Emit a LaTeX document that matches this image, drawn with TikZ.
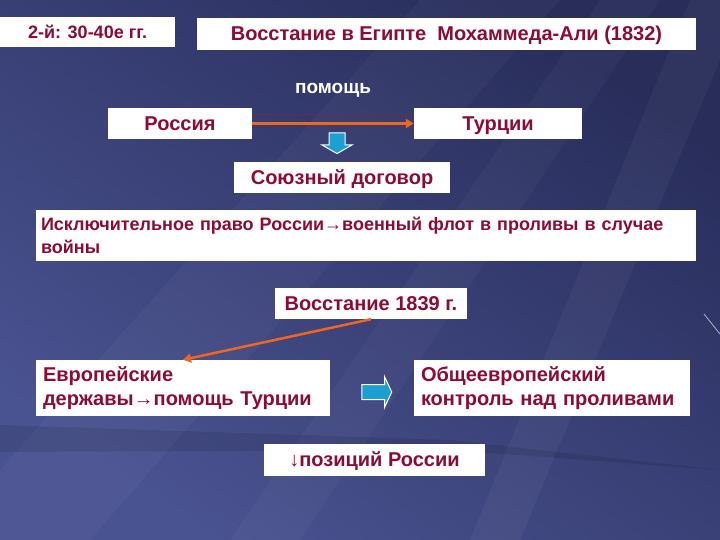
\documentclass[tikz,border=0pt]{standalone}
\usepackage{fontspec}
\setmainfont{Liberation Sans}
\usepackage{xcolor}
\usepackage{tikz}
\usetikzlibrary{shapes.arrows,arrows.meta}

\definecolor{bordo}{HTML}{8A0C32}
\definecolor{fonverh}{HTML}{282D5A}
\definecolor{fonniz}{HTML}{4A5391}
\definecolor{oranzh}{HTML}{F0661E}
\definecolor{goluboy}{HTML}{1E9FD2}
\definecolor{liniya}{HTML}{6A2C48}

\tikzset{
  blok/.style={fill=white, text=bordo, inner sep=0pt,
    font=\bfseries\fontsize{20}{24}\selectfont},
  stroka/.style={blok, text height=16pt, text depth=2.5pt},
  potok/.style={oranzh, line width=2.5pt, -{Triangle[length=8pt,width=9pt]}},
  strblok/.style={single arrow, draw=white, line width=1pt, fill=goluboy}
}

\begin{document}
\begin{tikzpicture}[x=1pt,y=-1pt]
  % Фон
  \useasboundingbox (0,0) rectangle (720,540);
  \shade[top color=fonverh, bottom color=fonniz, shading angle=-35] (0,0) rectangle (720,540);
  \fill[white, opacity=0.03] (420,0) -- (560,0) -- (90,540) -- (0,540) -- (0,470) -- cycle;
  \fill[white, opacity=0.03] (600,0) -- (660,0) -- (300,540) -- (230,540) -- cycle;
  \fill[white, opacity=0.04] (690,0) -- (720,0) -- (720,60) -- (520,540) -- (470,540) -- cycle;
  \fill[black, opacity=0.10] (0,425) -- (450,440) -- (720,470) -- (450,450) -- (0,452) -- cycle;
  \draw[white, opacity=0.6, line width=0.8pt] (704,314) -- (720,334);

  % Блоки
  \node[stroka, minimum width=175, minimum height=30, font=\bfseries\fontsize{18}{20}\selectfont]
    (period) at (87.5,32) {2-й: 30-40е гг.};
  \node[stroka, minimum width=499, minimum height=32] (egipet) at (446.5,34)
    {Восстание в Египте\ \ Мохаммеда-Али (1832)};
  \node[text=white, font=\bfseries\fontsize{19}{22}\selectfont, inner sep=0pt]
    (pomosch) at (333,90) {помощь};
  \node[stroka, minimum width=144, minimum height=31] (rossia) at (180,123.5) {Россия};
  \node[stroka, minimum width=168, minimum height=31] (turcii) at (498,123.5) {Турции};
  \node[strblok, inner sep=7.5pt, minimum height=18, minimum width=29, single arrow head extend=7,
    single arrow tip angle=120, shape border rotate=270] (vniz) at (337,141) {};
  \node[stroka, minimum width=216, minimum height=31] (dogovor) at (342,177.5) {Союзный договор};
  \node[blok, minimum height=51, text width=650, align=left, inner xsep=5pt,
    font=\bfseries\fontsize{18}{23}\selectfont] (pravo) at (366,235.5)
    {Исключительное право России→военный флот в проливы в случае\\войны};
  \node[stroka, minimum width=192, minimum height=31] (vosst) at (371,303.5) {Восстание 1839 г.};
  \node[blok, minimum height=56, text width=280, align=left, inner xsep=7pt]
    (evropa) at (183,388) {Европейские\\державы→помощь Турции};
  \node[strblok, inner sep=7pt, minimum height=30, minimum width=30, single arrow head extend=8,
    single arrow tip angle=130] (vpravo) at (375,392) {};
  \node[blok, minimum height=56, text width=262, align=left, inner xsep=7pt]
    (kontrol) at (552,388) {Общеевропейский\\контроль над проливами};
  \node[stroka, minimum width=221, minimum height=32] (pozicii) at (374.5,460)
    {{\mdseries↓}позиций России};

  % Стрелки
  \draw[liniya, line width=1pt] ([yshift=8.5]rossia.east) -- ([yshift=8.5]turcii.west);
  \draw[potok] (rossia) -- (turcii);
  \draw[potok] (vosst.south) -- (evropa.north);
\end{tikzpicture}
\end{document}
